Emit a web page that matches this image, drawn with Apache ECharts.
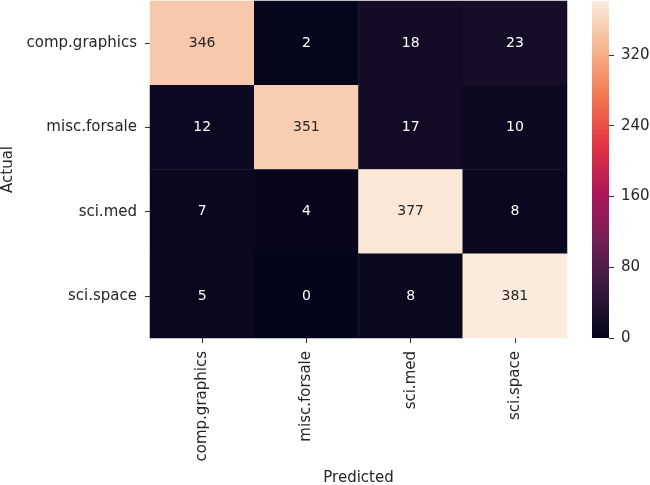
<!DOCTYPE html>
<html><head><meta charset="utf-8">
<script src="https://cdn.jsdelivr.net/npm/echarts@6/dist/echarts.min.js"></script>
<style>html,body{margin:0;padding:0;background:#fff}#c{width:650px;height:485px}</style>
</head><body><div id="c"></div>
<script>
const categories = ['comp.graphics', 'misc.forsale', 'sci.med', 'sci.space'];
const rowCompGraphics = [346, 2, 18, 23];
const rowMiscForsale = [12, 351, 17, 10];
const rowSciMed = [7, 4, 377, 8];
const rowSciSpace = [5, 0, 8, 381];
const colorbarTicks = [0, 80, 160, 240, 320];
const vMin = 0, vMax = 381;

const rows = [rowCompGraphics, rowMiscForsale, rowSciMed, rowSciSpace];
const data = [];
rows.forEach((r, yi) => r.forEach((v, xi) => {
  data.push({ value: [xi, yi, v], label: { color: v > 190 ? '#262626' : '#ffffff' } });
}));
const rocket = ['#03051a', '#35193e', '#701f57', '#ad1759', '#e13342', '#f37651', '#f6b48f', '#faebdd'];
const gradStops = rocket.map((c, i) => ({ offset: i / (rocket.length - 1), color: c }));
const font = 'DejaVu Sans';
const txt = '#262626';
const chart = echarts.init(document.getElementById('c'), null, { renderer: 'canvas' });
chart.setOption({
  animation: false,
  textStyle: { fontFamily: font },
  grid: [
    { left: 150, top: 1, width: 417, height: 337, outerBoundsMode: 'none', containLabel: false },
    { left: 592, top: 1, width: 17, height: 337, outerBoundsMode: 'none', containLabel: false }
  ],
  xAxis: [
    { type: 'category', data: categories, gridIndex: 0, position: 'bottom',
      name: 'Predicted', nameLocation: 'middle', nameGap: 133,
      nameTextStyle: { fontSize: 15, color: txt, fontFamily: font },
      axisLine: { show: false }, splitLine: { show: false },
      axisTick: { show: true, alignWithLabel: true, length: 5, lineStyle: { color: '#333' } },
      axisLabel: { rotate: 90, fontSize: 15, color: txt, margin: 13, fontFamily: font } },
    { type: 'category', data: [''], gridIndex: 1, show: false }
  ],
  yAxis: [
    { type: 'category', data: categories, gridIndex: 0, inverse: true,
      name: 'Actual', nameLocation: 'middle', nameGap: 134, nameRotate: 90,
      nameTextStyle: { fontSize: 15, color: txt, fontFamily: font },
      axisLine: { show: false }, splitLine: { show: false },
      axisTick: { show: true, alignWithLabel: true, length: 5, lineStyle: { color: '#333' } },
      axisLabel: { fontSize: 15, color: txt, margin: 13, fontFamily: font } },
    { type: 'value', gridIndex: 1, position: 'right', min: vMin, max: vMax,
      axisLine: { show: false }, splitLine: { show: false },
      axisTick: { show: true, inside: false, length: 5, lineStyle: { color: '#333' }, customValues: colorbarTicks },
      axisLabel: { fontSize: 15, color: txt, margin: 12, fontFamily: font, customValues: colorbarTicks } }
  ],
  visualMap: {
    type: 'continuous', min: vMin, max: vMax, show: false, seriesIndex: 0,
    inRange: { color: rocket }
  },
  series: [{
    type: 'heatmap', xAxisIndex: 0, yAxisIndex: 0, data: data,
    label: { show: true, fontSize: 14, fontFamily: font },
    itemStyle: { borderWidth: 0 },
    emphasis: { disabled: true }
  }, {
    type: 'bar', xAxisIndex: 1, yAxisIndex: 1, data: [vMax], barWidth: '100%',
    silent: true,
    itemStyle: { color: new echarts.graphic.LinearGradient(0, 1, 0, 0, gradStops) }
  }]
});
</script></body></html>
